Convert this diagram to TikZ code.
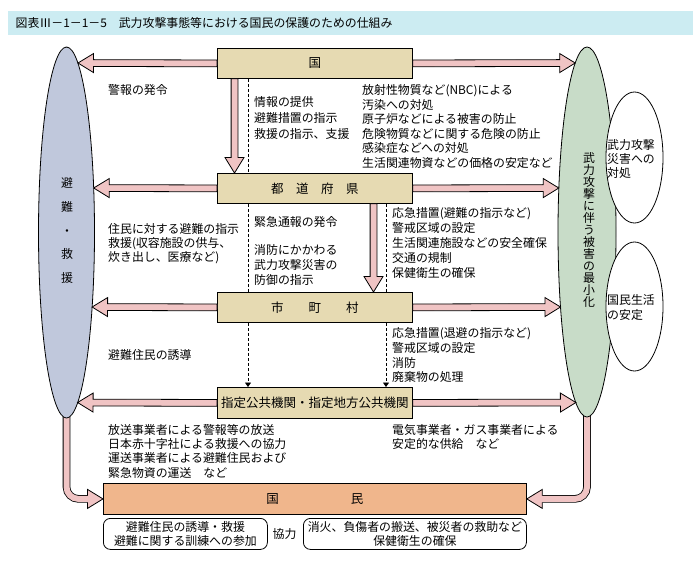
\documentclass[tikz,border=0pt]{standalone}
\usepackage{fontspec}
\setmainfont{Noto Sans CJK JP}
\usetikzlibrary{calc,arrows.meta,shapes.geometric}
\definecolor{beige}{HTML}{E6DAB2}
\definecolor{orng}{HTML}{F0B68C}
\definecolor{pk}{HTML}{F0C4C4}
\definecolor{bgrey}{HTML}{C0C8DC}
\definecolor{grn}{HTML}{C8DCC8}
\definecolor{ttl}{HTML}{CCECF2}
\newcommand\fs[2]{\fontsize{#1}{#2}\selectfont\lineskiplimit=-20pt\lineskip=0pt}
\tikzset{
  box/.style={draw=black, line width=0.8pt, fill=beige, minimum width=195pt, minimum height=30pt, inner sep=0pt, anchor=north west, font=\fs{12.5}{14}},
  obox/.style={box, fill=orng, minimum width=423pt, minimum height=31pt},
  rbox/.style={draw=black, line width=0.8pt, fill=white, rounded corners=7pt, minimum height=31pt, inner sep=0pt, anchor=north west, align=center},
  txt/.style={inner sep=0pt, anchor=west, align=left},
  blkarr/.style={fill=pk, draw=black, line width=0.8pt, line join=miter},
  dsh/.style={draw=black, line width=0.8pt, dash pattern=on 3pt off 2pt},
  ell/.style={ellipse, draw=black, line width=0.8pt, inner sep=0pt},
  tubeout/.style={draw=black, line width=7.6pt, rounded corners=12pt},
  tubein/.style={draw=pk, line width=6pt, rounded corners=12pt},
}
\newcommand\blkarrow[2]{%
  \coordinate (ba) at #1;
  \coordinate (bb) at #2;
  \coordinate (bh) at ($(bb)!15.5pt!(ba)$);
  \filldraw[blkarr] ($(ba)!3.4pt!90:(bb)$) -- ($(bh)!3.4pt!90:(bb)$) -- ($(bh)!9.5pt!90:(bb)$) -- (bb) -- ($(bh)!9.5pt!-90:(bb)$) -- ($(bh)!3.4pt!-90:(bb)$) -- ($(ba)!3.4pt!-90:(bb)$) -- cycle;}
\newcommand\blkhead[2]{%
  \coordinate (ba) at #1;
  \coordinate (bb) at #2;
  \coordinate (bh) at ($(bb)!15.5pt!(ba)$);
  \filldraw[blkarr] ($(bh)!3.4pt!90:(bb)$) -- ($(bh)!9.5pt!90:(bb)$) -- (bb) -- ($(bh)!9.5pt!-90:(bb)$) -- ($(bh)!3.4pt!-90:(bb)$);}
\begin{document}
\begin{tikzpicture}[x=1pt,y=-1pt, every node/.append style={font=\fs{11.9}{14.5}}]
\useasboundingbox (0,0) rectangle (700,560);
\fill[white] (0,0) rectangle (700,560);
% title
\node[fill=ttl, minimum width=685pt, minimum height=24pt, anchor=north west, inner sep=0pt] (tbar) at (8,11) {};
\node[txt] (title) at (15.5,23) {図表Ⅲ－1－1－5　武力攻撃事態等における国民の保護のための仕組み};
% boxes
\node[box] (kuni) at (217,48) {国};
\node[box] (todo) at (217,173) {都　道　府　県};
\node[box] (shi) at (217,292) {市　　町　　村};
\node[box, minimum height=31pt] (shitei) at (217,387) {指定公共機関・指定地方公共機関};
\node[obox] (kokumin) at (103,483) {国\hspace{72pt}民};
\node[rbox, minimum width=164pt] (bl) at (103,518) {避難住民の誘導・救援\\避難に関する訓練への参加};
\node[rbox, minimum width=223pt] (br) at (303,518) {消火、負傷者の搬送、被災者の救助など\\保健衛生の確保};
\node (kyo) at (284.5,534) {協力};
% ellipses (with tubes underneath)
\node[ell, minimum width=56pt, minimum height=371pt, draw=none] (Lell) at (66.5,232.5) {};
\node[ell, minimum width=58pt, minimum height=370pt, draw=none] (Rell) at (587,232) {};
\draw[tubeout] ([yshift=6pt]Lell.south) |- ([xshift=-15pt]kokumin.west);
\draw[tubein] ([yshift=6pt]Lell.south) |- ([xshift=-15pt]kokumin.west);
\draw[tubeout] ([yshift=6pt]Rell.south) |- ([xshift=15pt]kokumin.east);
\draw[tubein] ([yshift=6pt]Rell.south) |- ([xshift=15pt]kokumin.east);
\blkhead{(Lell.south |- kokumin.west)}{(kokumin.west)}
\blkhead{(Rell.south |- kokumin.east)}{(kokumin.east)}
\node[ell, fill=bgrey, minimum width=56pt, minimum height=371pt] (Lellf) at (66.5,232.5) {};
\node[ell, fill=grn, minimum width=58pt, minimum height=370pt] (Rellf) at (587,232) {};
\node[ell, fill=white, minimum width=57pt, minimum height=131pt] (W1) at (634.5,157.5) {};
\node[ell, fill=white, minimum width=57pt, minimum height=129pt] (W2) at (634.5,306.5) {};
\node[align=center, inner sep=0pt, font=\fs{11.9}{23.7}] (Ltxt) at (67,230.5) {避\\難\\・\\救\\援};
\node[align=center, inner sep=0pt, font=\fs{11.9}{12}] (Rtxt) at (589,230) {武\\力\\攻\\撃\\に\\伴\\う\\被\\害\\の\\最\\小\\化};
\node[txt, font=\fs{11.9}{14}] (W1t) at (607,159) {武力攻撃\\災害への\\対処};
\node[txt, font=\fs{11.9}{15}] (W2t) at (607,307.5) {国民生活\\の安定};
% arrow tip coordinates on ellipses
\coordinate (L1) at (78,63);
\coordinate (L2) at (93.7,188);
\coordinate (L3) at (92.1,307);
\coordinate (L4) at (77.6,402.5);
\coordinate (R1) at (575.2,63);
\coordinate (R2) at (558.8,188);
\coordinate (R3) at (560.5,307);
\coordinate (R4) at (575.9,402.5);
\blkarrow{(kuni.west)}{(L1)}
\blkarrow{(todo.west)}{(L2)}
\blkarrow{(shi.west)}{(L3)}
\blkarrow{(shitei.west)}{(L4)}
\blkarrow{(kuni.east)}{(R1)}
\blkarrow{(todo.east)}{(R2)}
\blkarrow{(shi.east)}{(R3)}
\blkarrow{(shitei.east)}{(R4)}
% vertical links
\coordinate (va) at (234.5,0);
\coordinate (vb) at (373.5,0);
\coordinate (dl) at (248,0);
\coordinate (dr) at (386,0);
\blkarrow{(kuni.south -| va)}{(todo.north -| va)}
\blkarrow{(todo.south -| vb)}{(shi.north -| vb)}
\draw[dsh] (kuni.south -| dl) -- (todo.north -| dl);
\draw[dsh] (todo.south -| dl) -- (shi.north -| dl);
\draw[dsh] (todo.south -| dr) -- (shi.north -| dr);
\draw[dsh, -{Triangle[length=4.5pt,width=6pt]}] (shi.south -| dl) -- (shitei.north -| dl);
\draw[dsh, -{Triangle[length=4.5pt,width=6pt]}] (shi.south -| dr) -- (shitei.north -| dr);
% texts
\node[txt] (t1) at (108,90) {警報の発令};
\node[txt, font=\fs{11.9}{16}] (t2) at (254,118) {情報の提供\\避難措置の指示\\救援の指示、支援};
\node[txt, font=\fs{11.9}{14.5}] (t3) at (362,126.4) {放射性物質など(NBC)による\\汚染への対処\\原子炉などによる被害の防止\\危険物質などに関する危険の防止\\感染症などへの対処\\生活関連物資などの価格の安定など};
\node[txt, font=\fs{11.9}{14.4}] (t4) at (108,243.7) {住民に対する避難の指示\\救援(収容施設の供与、\\炊き出し、医療など)};
\node[txt] (t5) at (254,222) {緊急通報の発令};
\node[txt, font=\fs{11.9}{15}] (t6) at (254,265) {消防にかかわる\\武力攻撃災害の\\防御の指示};
\node[txt, font=\fs{11.9}{14.85}] (t7) at (392,243) {応急措置(避難の指示など)\\警戒区域の設定\\生活関連施設などの安全確保\\交通の規制\\保健衛生の確保};
\node[txt] (t8) at (108,355) {避難住民の誘導};
\node[txt, font=\fs{11.9}{14.67}] (t9) at (392,355.3) {応急措置(退避の指示など)\\警戒区域の設定\\消防\\廃棄物の処理};
\node[txt, font=\fs{11.9}{14.2}] (t10) at (108,451.3) {放送事業者による警報等の放送\\日本赤十字社による救援への協力\\運送事業者による避難住民および\\緊急物資の運送　など};
\node[txt, font=\fs{11.9}{14}] (t11) at (392,437) {電気事業者・ガス事業者による\\安定的な供給　など};
\end{tikzpicture}
\end{document}
